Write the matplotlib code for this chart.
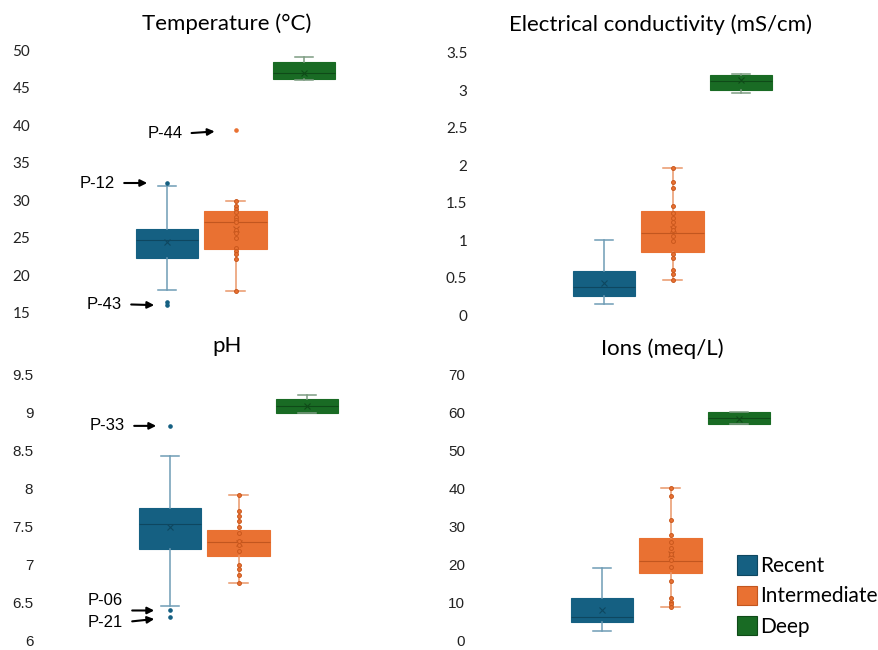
import matplotlib
matplotlib.use("Agg")
import matplotlib.pyplot as plt
from matplotlib.patches import Patch
import numpy as np

# groups and colours (Office theme)
groups = ["Recent", "Intermediate", "Deep"]
colors = ["#156082", "#E97132", "#196B24"]
dark = ["#0e4760", "#c2561f", "#0f4a18"]
light = ["#6f9cb5", "#e9976a", "#7d9c82"]

# Temperature (°C)
temp_q1 = [22.3, 23.5, 46.1]
temp_med = [24.7, 27.1, 47.0]
temp_q3 = [26.2, 28.6, 48.45]
temp_lo = [18.0, 17.9, 46.0]
temp_hi = [31.9, 29.9, 49.1]
temp_mean = [24.4, 26.2, 46.9]
temp_out = [[32.3, 16.5, 16.0], [39.35], []]
temp_pts = [29.9, 29.3, 28.9, 28.4, 27.8, 27.4, 27.1, 26.05, 25.6, 25.0,
            23.7, 23.2, 22.9, 22.2, 17.9]

# Electrical conductivity (mS/cm)
ec_q1 = [0.26, 0.845, 3.0]
ec_med = [0.37, 1.10, 3.12]
ec_q3 = [0.59, 1.39, 3.205]
ec_lo = [0.15, 0.465, 2.97]
ec_hi = [1.0, 1.97, 3.22]
ec_mean = [0.43, 1.15, 3.14]
ec_out = [[], [], []]
ec_pts = [1.97, 1.78, 1.70, 1.46, 1.36, 1.30, 1.24, 1.17, 1.13, 1.06, 0.99,
          0.81, 0.76, 0.60, 0.55, 0.465]

# pH
ph_q1 = [7.21, 7.115, 8.99]
ph_med = [7.53, 7.30, 9.08]
ph_q3 = [7.75, 7.46, 9.176]
ph_lo = [6.46, 6.765, 8.99]
ph_hi = [8.42, 7.92, 9.228]
ph_mean = [7.50, 7.29, 9.075]
ph_out = [[8.82, 6.40, 6.31], [], []]
ph_pts = [7.92, 7.70, 7.64, 7.57, 7.50, 7.42, 7.31, 7.26, 7.185, 6.99, 6.94,
          6.86, 6.765]

# Ions (meq/L)
ion_q1 = [5.1, 17.8, 57.0]
ion_med = [6.4, 21.1, 58.6]
ion_q3 = [11.4, 27.0, 60.2]
ion_lo = [2.7, 8.9, 57.0]
ion_hi = [19.3, 40.2, 60.35]
ion_mean = [8.2, 22.9, 58.5]
ion_out = [[], [], []]
ion_pts = [40.2, 38.2, 31.8, 27.9, 26.0, 24.5, 23.0, 21.3, 19.5, 15.8, 11.2,
           10.3, 9.7, 8.9]

# outlier tags: label, group index, value
temp_tags = [("P-44", 1, 39.35), ("P-12", 0, 32.3), ("P-43", 0, 16.0)]
ph_tags = [("P-33", 0, 8.82), ("P-06", 0, 6.40), ("P-21", 0, 6.31)]
# layout of each tag in pixels: text dy, arrow dy, tail dx, head gap
temp_tag_pos = [(-3, -3, -44, 21), (0, 0, -43, 20), (1, 1, -36, 13)]
ph_tag_pos = [(0, 0, -36, 14), (10, 0, -38, 16), (-5, -4, -38, 16)]

W, H = 879, 650
fig = plt.figure(figsize=(W / 100, H / 100), dpi=100)


def panel(left, top, bottom, ylim, step, q1, med, q3, lo, hi, mean, out, pts,
          tick_font, tags=(), tag_pos=()):
    ax = fig.add_axes([left / W, 1 - bottom / H, 385 / W, (bottom - top) / H])
    stats = []
    for i in range(3):
        stats.append(dict(q1=q1[i], med=med[i], q3=q3[i], whislo=lo[i],
                          whishi=hi[i], mean=mean[i], fliers=out[i]))
    bp = ax.bxp(stats, positions=[1, 2, 3], widths=0.91, capwidths=0.27,
                patch_artist=True, showmeans=True)
    for i in range(3):
        bp['boxes'][i].set(facecolor=colors[i], edgecolor=colors[i], linewidth=0.8)
        for k in (2 * i, 2 * i + 1):
            bp['whiskers'][k].set(color=light[i], linewidth=1.1)
            bp['caps'][k].set(color=light[i], linewidth=1.1)
        bp['medians'][i].set(color=dark[i], linewidth=0.8)
        bp['means'][i].set(marker='x', markersize=5, markeredgecolor=dark[i],
                           markeredgewidth=0.8)
        bp['fliers'][i].set(marker='o', markersize=2.3, markerfacecolor=colors[i],
                            markeredgecolor=colors[i])
    # inner points of the intermediate group
    ax.plot([2] * len(pts), pts, 'o', ms=2.8, mfc=colors[1], mec="#c9571c",
            mew=0.7, zorder=4)

    for (label, g, v), (tdy, ady, tail, gap) in zip(tags, tag_pos):
        ax.annotate('', xy=(g + 1, v), xytext=(tail, ady), textcoords='offset pixels',
                    arrowprops=dict(arrowstyle='-|>', color='black', lw=1.5,
                                    mutation_scale=10, shrinkA=0,
                                    shrinkB=gap * 0.72))
        ax.annotate(label, xy=(g + 1, v), xytext=(tail - 9, tdy),
                    textcoords='offset pixels', ha='right', va='center',
                    family='Liberation Sans', fontsize=12)

    ax.set_xlim(-0.86, 4.77)
    ax.set_ylim(*ylim)
    ticks = np.arange(ylim[0], ylim[1] + step / 2, step)
    ax.set_yticks(ticks)
    ax.set_yticklabels([f"{t:g}" for t in ticks], family=tick_font, fontsize=11,
                       color="#222222")
    ax.set_xticks([])
    ax.tick_params(axis='y', length=0, pad=7)
    for s in ax.spines.values():
        s.set_visible(False)
    return ax


panel(40, 50, 313, (15, 50), 5, temp_q1, temp_med, temp_q3, temp_lo, temp_hi,
      temp_mean, temp_out, temp_pts, 'Lato', temp_tags, temp_tag_pos)
panel(477, 53, 315, (0, 3.5), 0.5, ec_q1, ec_med, ec_q3, ec_lo, ec_hi,
      ec_mean, ec_out, ec_pts, 'Lato')
panel(43, 374, 641, (6, 9.5), 0.5, ph_q1, ph_med, ph_q3, ph_lo, ph_hi,
      ph_mean, ph_out, ph_pts, 'Liberation Sans', ph_tags, ph_tag_pos)
panel(475, 375, 641, (0, 70), 10, ion_q1, ion_med, ion_q3, ion_lo, ion_hi,
      ion_mean, ion_out, ion_pts, 'Liberation Sans')

# panel titles
titles = ["Temperature (°C)", "Electrical conductivity (mS/cm)", "pH", "Ions (meq/L)"]
title_xy = [(226.5, 29.5), (661, 31), (226.7, 351.5), (662.5, 355)]
for t, (x, y) in zip(titles, title_xy):
    fig.text(x / W, 1 - y / H, t, ha='center', va='baseline', family='Lato',
             fontsize=16, color='black')

handles = [Patch(facecolor=c, edgecolor=d, linewidth=0.8) for c, d in zip(colors, dark)]
fig.legend(handles, groups, loc='center left', bbox_to_anchor=(737 / W, 1 - 596 / H),
           frameon=False, prop={'family': 'Lato', 'size': 15}, handlelength=0.97,
           handleheight=1.05, handletextpad=0.12, labelspacing=0.45,
           borderpad=0, borderaxespad=0)

fig.savefig("out.png", dpi=100)
